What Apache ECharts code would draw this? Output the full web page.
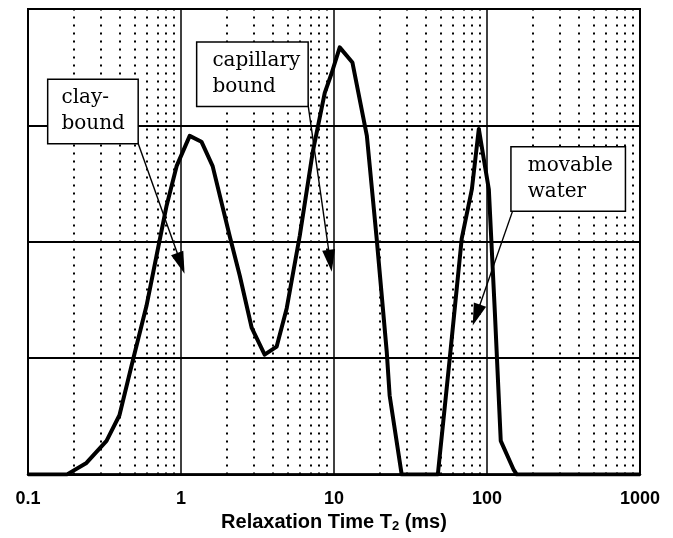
<!DOCTYPE html>
<html>
<head>
<meta charset="utf-8">
<style>
  html, body { margin: 0; padding: 0; background: #fff; }
  #chart { width: 673px; height: 538px; }
</style>
<script src="https://cdn.jsdelivr.net/npm/echarts@6/dist/echarts.min.js"></script>
</head>
<body>
<div id="chart"></div>
<script>
// T2 distribution
const t2 = [0.1, 0.179, 0.241, 0.326, 0.396, 0.482, 0.595, 0.692, 0.805, 0.936, 1.14, 1.36, 1.61, 2.08, 2.42, 2.90, 3.52, 4.22, 4.91, 5.97, 7.26, 8.70, 9.66, 10.9, 13.2, 16.4, 19.0, 22.1, 23.1, 27.7, 47.7, 57.1, 68.4, 79.6, 88.4, 102.8, 112.5, 123, 149.6, 156.7, 1000]
const amplitude = [0, 0, 0.10, 0.29, 0.51, 0.97, 1.45, 1.88, 2.31, 2.65, 2.91, 2.86, 2.65, 2.05, 1.71, 1.26, 1.03, 1.10, 1.43, 2.05, 2.77, 3.28, 3.45, 3.67, 3.54, 2.91, 2.03, 1.06, 0.68, 0, 0, 1.0, 2.03, 2.45, 2.97, 2.45, 1.40, 0.29, 0.04, 0, 0]

const xTickLabels = ['0.1', '1', '10', '100', '1000']
const axisTitle = 'Relaxation Time T{sub|2} (ms)'

// callouts (anchor in data units)
const noteLabels = ['clay-\nbound', 'capillary\nbound', 'movable\nwater']
const noteAt = [[0.136, 3.39], [1.28, 3.71], [145, 2.81]]
const arrowFrom = [[0.52, 2.86], [6.73, 3.2], [147.5, 2.27]]
const arrowTo = [[0.998, 1.815], [9.44, 1.837], [85.2, 1.371]]

const noteWidths = [68, 87, 89]
const notePadLeft = [13, 15, 16]

// dotted minor grid at 2..9 of each decade
const minorX = []
for (const d of [0.1, 1, 10, 100]) {
  for (let k = 2; k <= 9; k++) minorX.push(+(k * d).toPrecision(3))
}

const chart = echarts.init(document.getElementById('chart'))

chart.setOption({
  animation: false,
  backgroundColor: '#fff',
  grid: { left: 28, right: 33, top: 9, bottom: 61, show: true, borderColor: '#000', borderWidth: 2 },
  xAxis: {
    type: 'log',
    logBase: 10,
    min: 0.1,
    max: 1000,
    axisLine: { lineStyle: { color: '#000', width: 2.5 } },
    axisTick: { show: false },
    axisLabel: {
      color: '#000',
      fontFamily: 'Liberation Sans',
      fontWeight: 'bold',
      fontSize: 18,
      margin: 15,
      formatter: (v) => {
        const s = String(+(+v).toPrecision(3))
        return xTickLabels.includes(s) ? s : ''
      }
    },
    splitLine: { show: true, lineStyle: { color: '#000', width: 1.5 } },
    name: axisTitle,
    nameLocation: 'middle',
    nameGap: 36,
    nameTextStyle: {
      color: '#000',
      fontFamily: 'Liberation Sans',
      fontWeight: 'bold',
      fontSize: 20,
      verticalAlign: 'top',
      rich: { sub: { fontSize: 13, fontWeight: 'bold', verticalAlign: 'bottom', padding: [8, 0, 0, 0], fontFamily: 'Liberation Sans', color: '#000' } }
    }
  },
  yAxis: {
    type: 'value',
    min: 0,
    max: 4,
    interval: 1,
    axisLine: { show: true, lineStyle: { color: '#000', width: 2 } },
    axisTick: { show: false },
    axisLabel: { show: false },
    splitLine: { lineStyle: { color: '#000', width: 2 } }
  },
  series: [
    {
      type: 'line',
      data: [],
      silent: true,
      markLine: {
        z: 1,
        silent: true,
        symbol: ['none', 'none'],
        label: { show: false },
        lineStyle: { color: '#000', width: 2, type: [2, 6] },
        data: minorX.map((v) => ({ xAxis: v }))
      }
    },
    {
      type: 'line',
      z: 6,
      data: t2.map((x, i) => [x, amplitude[i]]),
      showSymbol: false,
      symbol: 'none',
      lineStyle: { color: '#000', width: 4, join: 'round' },
      markLine: {
        z: 7,
        silent: true,
        symbol: ['none', 'triangle'],
        symbolSize: [13, 22],
        label: { show: false },
        lineStyle: { color: '#000', width: 1.4, type: 'solid' },
        itemStyle: { color: '#000' },
        data: arrowFrom.map((p, i) => [{ coord: p }, { coord: arrowTo[i] }])
      },
      markPoint: {
        z: 8,
        silent: true,
        symbol: 'rect',
        symbolSize: 0,
        data: noteLabels.map((txt, i) => ({
          coord: noteAt[i],
          value: txt,
          label: {
            show: true,
            position: [0, 0],
            align: 'left',
            verticalAlign: 'top',
            formatter: txt,
            color: '#000',
            fontFamily: 'DejaVu Serif',
            fontSize: 20,
            lineHeight: 26,
            width: noteWidths[i],
            padding: [5, 8, 6, notePadLeft[i]],
            backgroundColor: '#fff',
            borderColor: '#000',
            borderWidth: 1.5
          }
        }))
      }
    }
  ]
})
</script>
</body>
</html>
